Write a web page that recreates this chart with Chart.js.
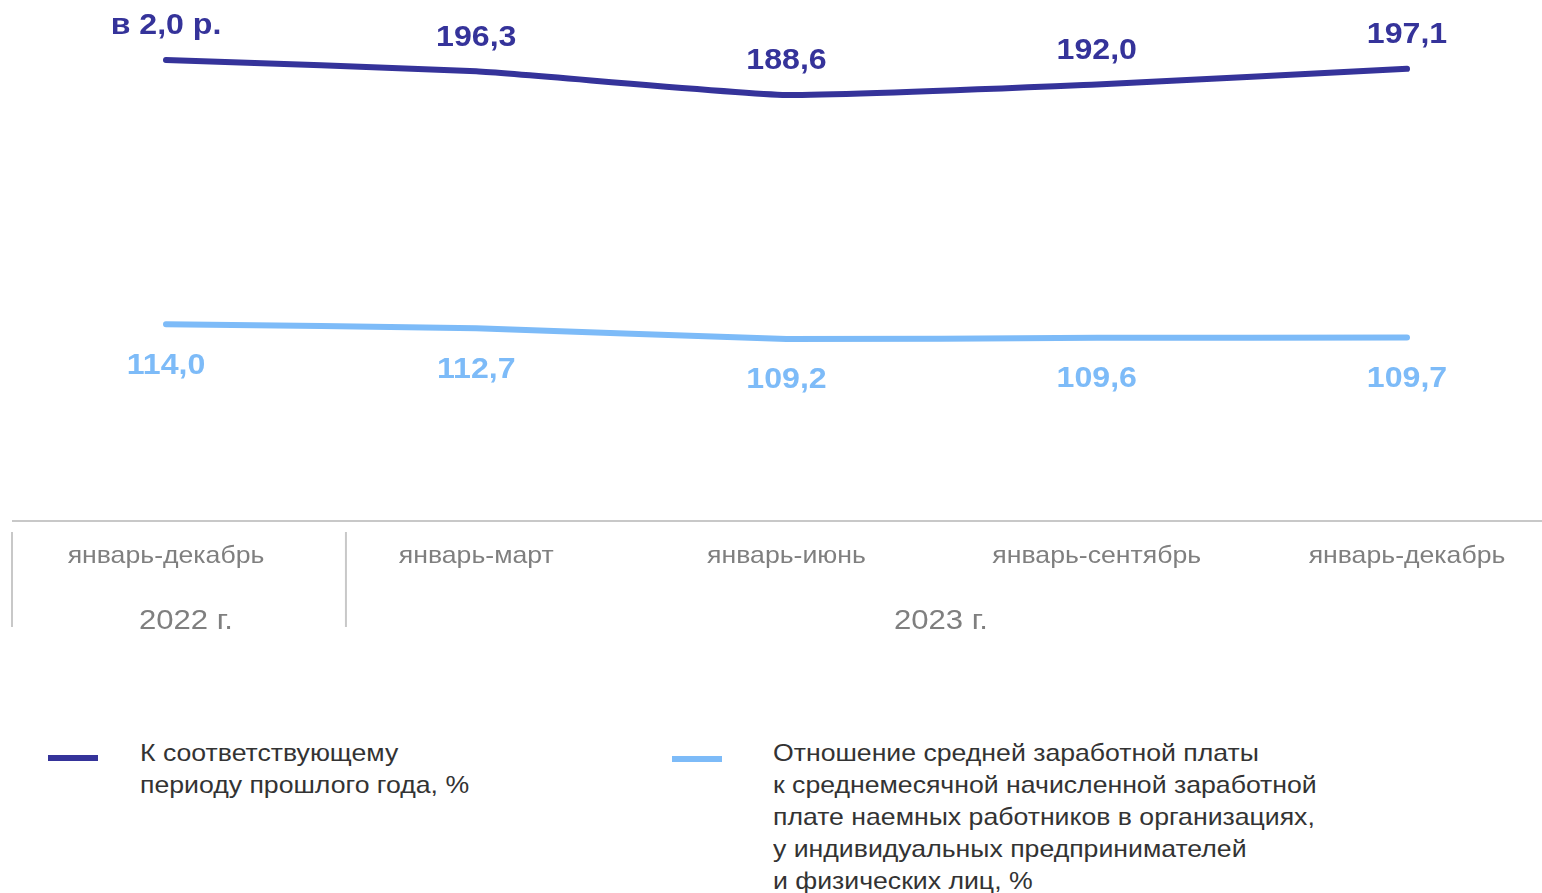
<!DOCTYPE html>
<html lang="ru">
<head>
<meta charset="utf-8">
<script src="https://cdn.jsdelivr.net/npm/chart.js@4"></script>
<style>
  html, body { margin: 0; padding: 0; background: #fff; }
  body { width: 1542px; height: 893px; position: relative; overflow: hidden; font-family: 'Liberation Sans', Arial, sans-serif; }
  #wrap { position: absolute; left: 0; top: 0; width: 1542px; height: 660px; }
  .leg { position: absolute; font-size: 24px; line-height: 32px; color: #333; transform: scaleX(1.11); transform-origin: 0 0; white-space: nowrap; }
  .sw { position: absolute; width: 50px; height: 6px; }
</style>
</head>
<body>
<div id="wrap"><canvas id="chartSal"></canvas></div>

<div class="sw" style="left:48px;top:755px;background:#35339A"></div>
<div class="leg" style="left:140px;top:737px">К соответствующему<br>периоду прошлого года, %</div>
<div class="sw" style="left:672px;top:756px;background:#7DBBF8"></div>
<div class="leg" style="left:773px;top:737px">Отношение средней заработной платы<br>к среднемесячной начисленной заработной<br>плате наемных работников в организациях,<br>у индивидуальных предпринимателей<br>и физических лиц, %</div>

<script>
// ── data ──
const periods   = ['январь-декабрь', 'январь-март', 'январь-июнь', 'январь-сентябрь', 'январь-декабрь'];
const years     = ['2022 г.', '2023 г.'];
const yoy       = [200.0, 196.3, 188.6, 192.0, 197.1];
const yoyLabels = ['в 2,0 р.', '196,3', '188,6', '192,0', '197,1'];
const ratio     = [114.0, 112.7, 109.2, 109.6, 109.7];

const DARK  = '#35339A';
const LIGHT = '#7DBBF8';
const fmt = v => v.toFixed(1).replace('.', ',');

// text drawn slightly wider, as in the source
function wideText(ctx, txt, x, y, sx) {
  ctx.save();
  ctx.translate(x, y);
  ctx.scale(sx, 1);
  ctx.fillText(txt, 0, 0);
  ctx.restore();
}

// value labels + custom category axis with year groups
const decor = {
  id: 'decor',
  afterDatasetsDraw(chart) {
    const { ctx, chartArea, scales: { x } } = chart;
    ctx.save();
    ctx.textAlign = 'center';
    ctx.textBaseline = 'middle';
    ctx.font = "bold 30px 'Liberation Sans', Arial, sans-serif";

    chart.getDatasetMeta(0).data.forEach((pt, i) => {
      ctx.fillStyle = DARK;
      wideText(ctx, yoyLabels[i], pt.x, pt.y - 34, 1.07);
    });
    chart.getDatasetMeta(1).data.forEach((pt, i) => {
      ctx.fillStyle = LIGHT;
      wideText(ctx, fmt(ratio[i]), pt.x, pt.y + 41, 1.07);
    });

    // axis line
    const yb = chartArea.bottom;
    ctx.strokeStyle = '#C8C8C8';
    ctx.lineWidth = 2;
    ctx.beginPath();
    ctx.moveTo(12, yb);
    ctx.lineTo(chart.width, yb);
    ctx.stroke();

    // group separators
    const sep = x.getPixelForValue(0) + (x.getPixelForValue(1) - x.getPixelForValue(0)) * 0.58;
    ctx.beginPath();
    ctx.moveTo(12, yb + 11);  ctx.lineTo(12, yb + 106);
    ctx.moveTo(sep, yb + 11); ctx.lineTo(sep, yb + 106);
    ctx.stroke();

    // period labels
    ctx.fillStyle = '#7F7F7F';
    ctx.font = "24px 'Liberation Sans', Arial, sans-serif";
    periods.forEach((p, i) => wideText(ctx, p, x.getPixelForValue(i), yb + 35, 1.11));

    // year labels
    ctx.font = "28px 'Liberation Sans', Arial, sans-serif";
    wideText(ctx, years[0], (12 + sep) / 2 + 7, yb + 100, 1.11);
    wideText(ctx, years[1], (sep + chart.width) / 2 - 3, yb + 100, 1.11);
    ctx.restore();
  }
};

new Chart(document.getElementById('chartSal'), {
  type: 'line',
  data: {
    labels: periods,
    datasets: [
      { label: 'yoy', data: yoy, borderColor: DARK, borderWidth: 6, pointRadius: 0, borderCapStyle: 'round', tension: 0.15 },
      { label: 'ratio', data: ratio, borderColor: LIGHT, borderWidth: 6, pointRadius: 0, borderCapStyle: 'round', tension: 0.15 },
    ],
  },
  options: {
    responsive: true,
    maintainAspectRatio: false,
    animation: false,
    layout: { padding: { left: 166, right: 135, top: 0, bottom: 139 } },
    plugins: { legend: { display: false }, tooltip: { enabled: false } },
    scales: {
      x: { display: false, offset: false },
      y: { display: false, min: 50, max: 219.5 },
    },
  },
  plugins: [decor],
});
</script>
</body>
</html>
